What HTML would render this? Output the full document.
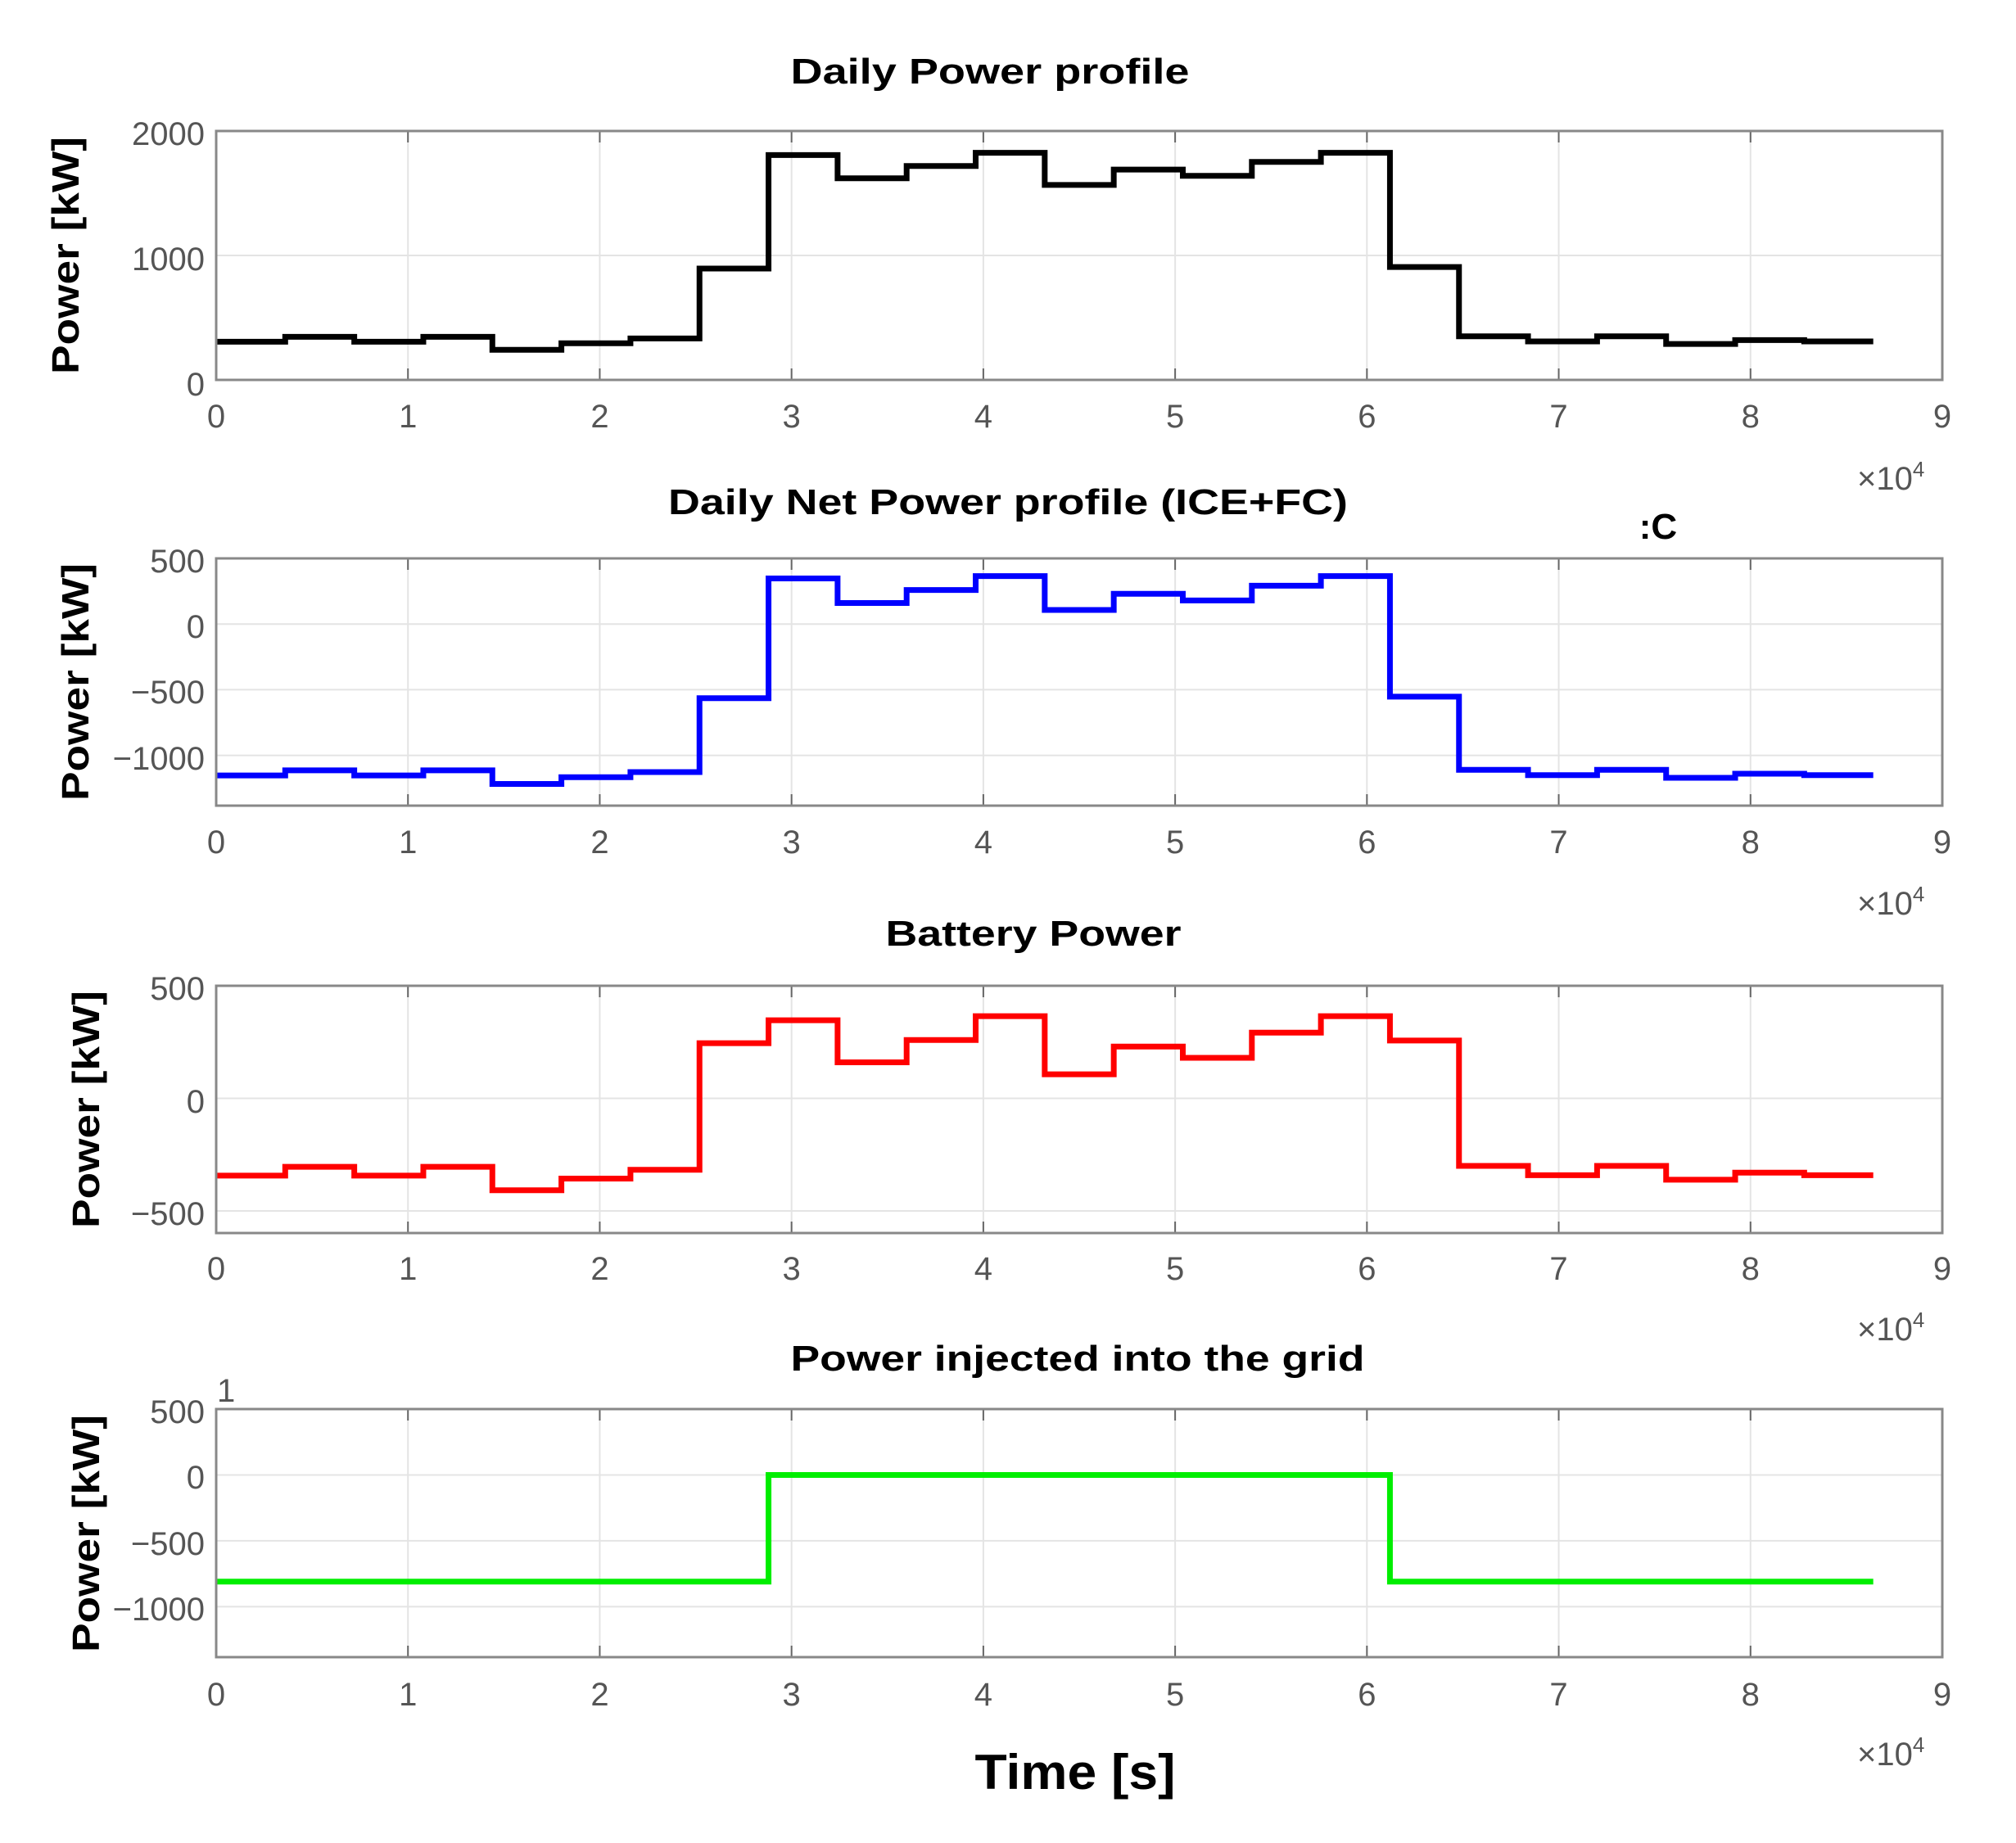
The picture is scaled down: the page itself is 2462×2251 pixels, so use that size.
<!DOCTYPE html>
<html><head><meta charset="utf-8"><style>
html,body{margin:0;padding:0;background:#fff;}
svg{display:block;}
text{font-family:"Liberation Sans",sans-serif;}
.tk{font-size:40px;fill:#555;}
.ti{font-size:44px;font-weight:bold;fill:#000;}
.yl{font-size:46px;font-weight:bold;fill:#000;}
</style></head><body>
<svg id="s" width="2462" height="2251" xmlns="http://www.w3.org/2000/svg">
<rect width="2462" height="2251" fill="#fff"/>
<g id="g"></g>
<text class="ti" x="1209" y="102" text-anchor="middle" textLength="487" lengthAdjust="spacingAndGlyphs">Daily Power profile</text>
<text class="ti" x="1231" y="628" text-anchor="middle" textLength="830" lengthAdjust="spacingAndGlyphs">Daily Net Power profile (ICE+FC)</text>
<text class="ti" x="2025" y="658" text-anchor="middle">:C</text>
<text class="ti" x="1262" y="1155" text-anchor="middle" textLength="361" lengthAdjust="spacingAndGlyphs">Battery Power</text>
<text class="ti" x="1316" y="1674" text-anchor="middle" textLength="701" lengthAdjust="spacingAndGlyphs">Power injected into the grid</text>
<text class="yl" transform="translate(96,312) rotate(-90)" text-anchor="middle" textLength="290" lengthAdjust="spacingAndGlyphs">Power [kW]</text>
<text class="yl" transform="translate(108,833) rotate(-90)" text-anchor="middle" textLength="290" lengthAdjust="spacingAndGlyphs">Power [kW]</text>
<text class="yl" transform="translate(121,1355) rotate(-90)" text-anchor="middle" textLength="290" lengthAdjust="spacingAndGlyphs">Power [kW]</text>
<text class="yl" transform="translate(121,1873) rotate(-90)" text-anchor="middle" textLength="290" lengthAdjust="spacingAndGlyphs">Power [kW]</text>
<text x="1313" y="2185" text-anchor="middle" font-size="60" font-weight="bold" textLength="245" lengthAdjust="spacingAndGlyphs">Time [s]</text>
<text class="tk" x="265" y="1712" font-size="30">1</text>
<g class="tk">
<text x="2268" y="598">×10<tspan font-size="26" dy="-16">4</tspan></text>
<text x="2268" y="1117">×10<tspan font-size="26" dy="-16">4</tspan></text>
<text x="2268" y="1637">×10<tspan font-size="26" dy="-16">4</tspan></text>
<text x="2268" y="2156">×10<tspan font-size="26" dy="-16">4</tspan></text>
</g>
<g class="tk" text-anchor="end">
<text x="250" y="177">2000</text><text x="250" y="330">1000</text><text x="250" y="483">0</text>
<text x="250" y="699">500</text><text x="250" y="779">0</text><text x="250" y="859">−500</text><text x="250" y="940">−1000</text>
<text x="250" y="1221">500</text><text x="250" y="1359">0</text><text x="250" y="1496">−500</text>
<text x="250" y="1738">500</text><text x="250" y="1818">0</text><text x="250" y="1899">−500</text><text x="250" y="1979">−1000</text>
</g>
<g class="tk" text-anchor="middle" id="xt"></g>
</svg>
<script>
var X0=264,XW=2108/9;
function px(x){return X0+x*XW;}
var P=[307,346,307,346,242,294,333,895,1807,1620,1719,1825,1567,1690,1640,1752,1825,907,350,309,350,289,320,309];
var net=P.map(function(v){return v-1460;});
var grid=[];for(var i=0;i<24;i++)grid.push(i>=8&&i<=16?0:-810);
var bat=net.map(function(v,i){return v-grid[i];});
var plots=[
{top:160,bot:464,vmax:2000,vmin:0,ticks:[0,1000,2000],data:P,col:"#000"},
{top:682,bot:984,vmax:500,vmin:-1383,ticks:[500,0,-500,-1000],data:net,col:"#0000ff"},
{top:1204,bot:1506,vmax:500,vmin:-598,ticks:[500,0,-500],data:bat,col:"#ff0000"},
{top:1721,bot:2024,vmax:500,vmin:-1383,ticks:[500,0,-500,-1000],data:grid,col:"#00ee00"}];
var lb=[522,1042,1563,2083];
var h="",xt="";
plots.forEach(function(p,k){
 function py(v){return p.top+(p.vmax-v)/(p.vmax-p.vmin)*(p.bot-p.top);}
 for(var i=1;i<9;i++)h+='<line x1="'+px(i)+'" y1="'+p.top+'" x2="'+px(i)+'" y2="'+p.bot+'" stroke="#e4e4e4" stroke-width="2"/>';
 p.ticks.forEach(function(t){var y=py(t);if(y>p.top+2&&y<p.bot-2)h+='<line x1="'+X0+'" y1="'+y+'" x2="'+px(9)+'" y2="'+y+'" stroke="#e4e4e4" stroke-width="2"/>';});
 for(var i=0;i<=9;i++){h+='<line x1="'+px(i)+'" y1="'+p.top+'" x2="'+px(i)+'" y2="'+(p.top+14)+'" stroke="#666" stroke-width="2"/><line x1="'+px(i)+'" y1="'+p.bot+'" x2="'+px(i)+'" y2="'+(p.bot-14)+'" stroke="#666" stroke-width="2"/>';
  xt+='<text x="'+px(i)+'" y="'+lb[k]+'">'+i+'</text>';}
 var d="M"+px(0)+" "+py(p.data[0]);
 for(var i=0;i<24;i++){var y=py(p.data[i]);d+=" L"+px(i*0.36)+" "+y+" L"+px((i+1)*0.36)+" "+y;}
 h+='<path d="'+d+'" fill="none" stroke="'+p.col+'" stroke-width="7" stroke-linejoin="miter"/>';
 h+='<rect x="'+X0+'" y="'+p.top+'" width="2108" height="'+(p.bot-p.top)+'" fill="none" stroke="#888" stroke-width="3"/>';
});
document.getElementById("g").innerHTML=h;
document.getElementById("xt").innerHTML=xt;
</script>
</body></html>
